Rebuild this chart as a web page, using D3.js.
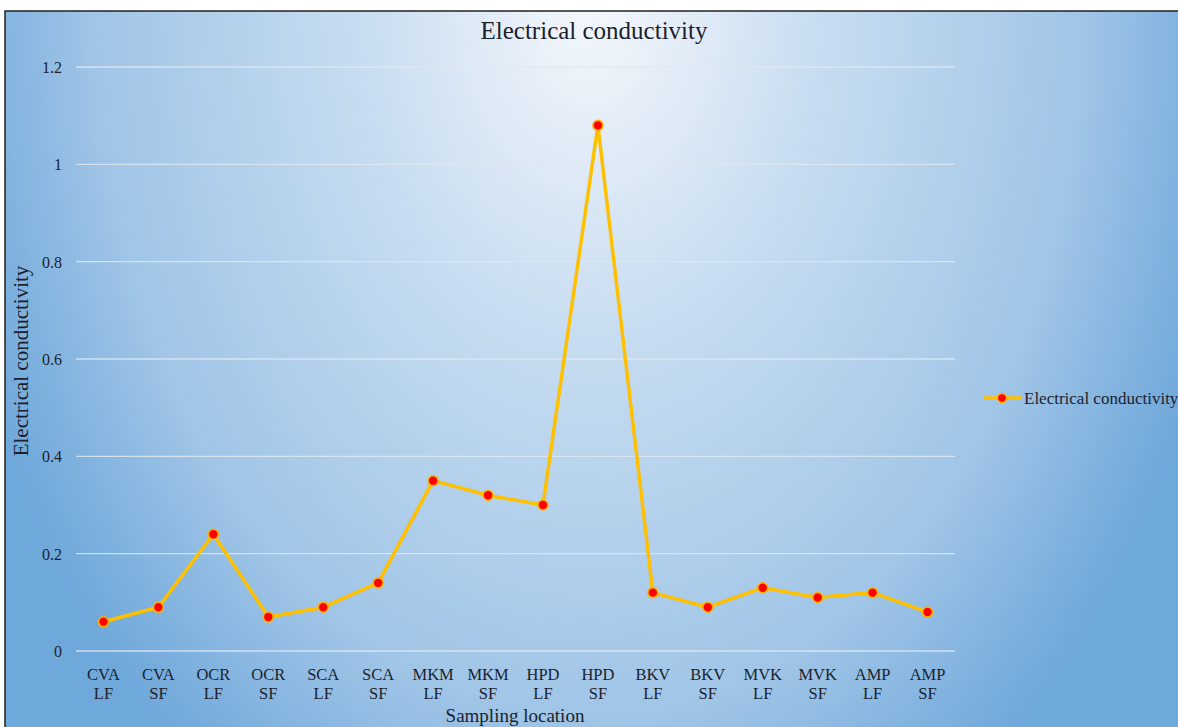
<!DOCTYPE html>
<html><head><meta charset="utf-8">
<script src="https://cdn.jsdelivr.net/npm/d3@7"></script>
<style>body{margin:0;background:#fff}svg{display:block}text{font-family:"Liberation Serif","Times New Roman","DejaVu Serif",serif;fill:#1c1f2e}</style>
</head><body>
<svg id="c" width="1178" height="727"></svg>
<script>
const categories = [["CVA","LF"],["CVA","SF"],["OCR","LF"],["OCR","SF"],["SCA","LF"],["SCA","SF"],["MKM","LF"],["MKM","SF"],["HPD","LF"],["HPD","SF"],["BKV","LF"],["BKV","SF"],["MVK","LF"],["MVK","SF"],["AMP","LF"],["AMP","SF"]];
const values = [0.06,0.09,0.24,0.07,0.09,0.14,0.35,0.32,0.30,1.08,0.12,0.09,0.13,0.11,0.12,0.08];
const yTicks = [0,0.2,0.4,0.6,0.8,1,1.2];
const seriesName = "Electrical conductivity";
const FONT = "'Liberation Serif','Times New Roman','DejaVu Serif',serif";

const svg = d3.select("#c");
const defs = svg.append("defs");
const g = defs.append("radialGradient").attr("id","bg").attr("gradientUnits","userSpaceOnUse")
  .attr("cx",590).attr("cy",0).attr("r",660)
  .attr("gradientTransform","translate(590,0) scale(1,1.45) translate(-590,0)");
[[0,"#f5f8fc"],[0.15,"#e2ecf7"],[0.36,"#c6dcf0"],[0.75,"#a0c5e7"],[0.9,"#82b3df"],[1,"#6fa8da"]]
  .forEach(([o,c])=>g.append("stop").attr("offset",o).attr("stop-color",c));

svg.append("rect").attr("x",5).attr("y",11).attr("width",1180).attr("height",730)
  .attr("fill","url(#bg)").attr("stroke","#222").attr("stroke-width",1.5);

const x = d3.scaleBand().domain(d3.range(categories.length)).range([76,955]);
const y = d3.scaleLinear().domain([0,1.2]).range([651,67]);

// gridlines
svg.append("g").selectAll("line").data(yTicks).join("line")
  .attr("x1",76).attr("x2",955).attr("y1",d=>y(d)).attr("y2",d=>y(d))
  .attr("stroke","#dfe7f0").attr("stroke-opacity",0.85).attr("stroke-width",1.3);

// y axis labels
const yAxis = d3.axisLeft(y).tickValues(yTicks).tickSize(0).tickPadding(0).tickFormat(d=>String(d));
const ya = svg.append("g").attr("transform","translate(62,0)").call(yAxis);
ya.select(".domain").remove();
ya.attr("font-family",null);
ya.selectAll("text").style("font-family",FONT).style("font-size","16px").style("fill","#1c1f2e").attr("dy","0.35em");

// x axis labels
const xa = svg.append("g").attr("transform","translate(0,651)")
  .call(d3.axisBottom(x).tickSize(0).tickFormat(""));
xa.select(".domain").remove();
xa.attr("font-family",null);
xa.selectAll(".tick").each(function(d){
  const t = d3.select(this).append("text").attr("text-anchor","middle")
    .style("font-family",FONT).style("font-size","16.5px").style("fill","#1c1f2e");
  t.append("tspan").attr("x",0).attr("y",29).text(categories[d][0]);
  t.append("tspan").attr("x",0).attr("y",48).text(categories[d][1]);
});

// line
const cx = i => x(i) + x.bandwidth()/2;
svg.append("path").datum(values)
  .attr("d", d3.line().x((d,i)=>cx(i)).y(d=>y(d)))
  .attr("fill","none").attr("stroke","#ffc000").attr("stroke-width",3.5).attr("stroke-linejoin","round");
svg.append("g").selectAll("circle").data(values).join("circle")
  .attr("cx",(d,i)=>cx(i)).attr("cy",d=>y(d)).attr("r",5)
  .attr("fill","#ff0000").attr("stroke","#ffb000").attr("stroke-width",1.6);

// title
svg.append("text").attr("x",594).attr("y",39).attr("text-anchor","middle")
  .style("font-family",FONT).style("font-size","25px").text(seriesName);
// axis titles
svg.append("text").attr("x",515).attr("y",722).attr("text-anchor","middle")
  .style("font-family",FONT).style("font-size","19px").text("Sampling location");
svg.append("text").attr("transform","translate(28,361) rotate(-90)").attr("text-anchor","middle")
  .style("font-family",FONT).style("font-size","21px").text(seriesName);

// legend
const ly = 398;
svg.append("line").attr("x1",983).attr("x2",1021).attr("y1",ly).attr("y2",ly)
  .attr("stroke","#ffc000").attr("stroke-width",3.5);
svg.append("circle").attr("cx",1002).attr("cy",ly).attr("r",4.5).attr("fill","#ff0000").attr("stroke","#ffb000").attr("stroke-width",1.5);
svg.append("text").attr("x",1024).attr("y",ly).attr("dy","0.35em").style("font-family",FONT).style("font-size","17px").text(seriesName);
</script>
</body></html>
